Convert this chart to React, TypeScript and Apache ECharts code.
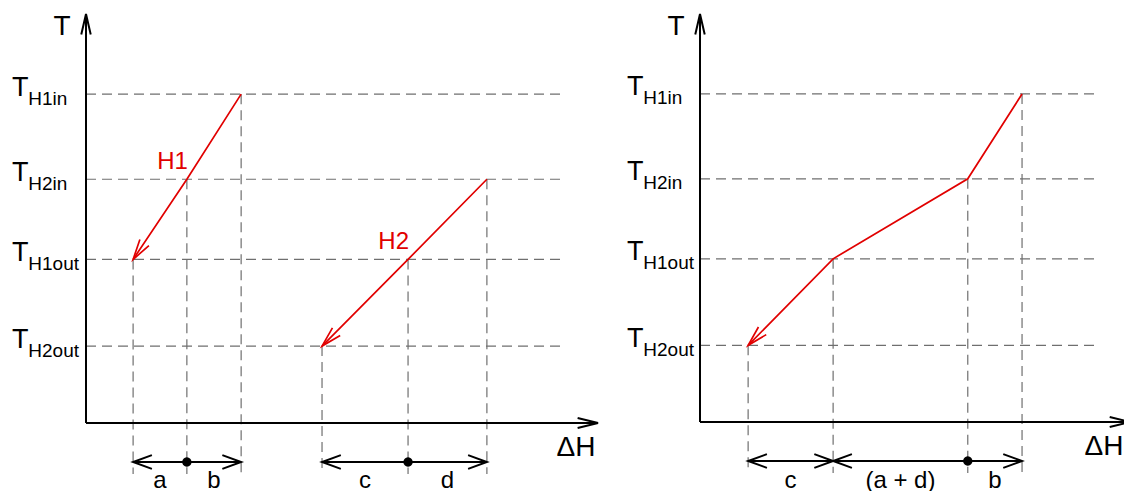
import React, { useEffect, useRef } from 'react';
import * as echarts from 'echarts';

const FONT = '"Liberation Sans", Arial, Helvetica, sans-serif';
const RED = '#e10000';
const GUIDE = '#6f6f6f';
const INK = '#000000';

// Temperature levels (schematic units, axis 0..100)
const T_LEVELS = [80.4, 59.6, 40.0, 18.8];
const T_SUBSCRIPTS = ['H1in', 'H2in', 'H1out', 'H2out'];

// Hot streams: [ΔH, T] vertices (schematic units)
const H1_POINTS = [[30.3, 80.4], [19.7, 59.6], [9.2, 40.0]];
const H2_POINTS = [[78.3, 59.6], [62.9, 40.0], [46.1, 18.8]];
const STREAM_LABELS = ['H1', 'H2'];

// Composite curve
const COMPOSITE_POINTS = [[62.9, 80.4], [52.3, 59.6], [26.0, 40.0], [9.4, 18.8]];

// Dimension annotations
const LEFT_SPANS = [[9.2, 30.3], [46.1, 78.3]];
const LEFT_DOTS = [19.7, 62.9];
const LEFT_SEGMENTS = [[9.2, 19.7], [19.7, 30.3], [46.1, 62.9], [62.9, 78.3]];
const LEFT_SEGMENT_LABELS = ['a', 'b', 'c', 'd'];

const RIGHT_SPANS = [[9.4, 26.0], [26.0, 62.9]];
const RIGHT_DOTS = [52.3];
const RIGHT_SEGMENTS = [[9.4, 26.0], [26.0, 52.3], [52.3, 62.9]];
const RIGHT_SEGMENT_LABELS = ['c', '(a + d)', 'b'];

const AXIS_NAMES = ['T', 'ΔH'];
const X_MAX = 100;
const Y_MAX = 100;
const LEFT_X_END = 100;
const RIGHT_X_END = 84;
const LEFT_GUIDE_END = 93.0;
const RIGHT_GUIDE_END = 77.1;

const dashed = { stroke: GUIDE, lineWidth: 1.2, lineDash: [10, 6], fill: 'none' };
const axisStyle = { stroke: INK, lineWidth: 2, fill: 'none' };
const dimStyle = { stroke: INK, lineWidth: 2, fill: 'none' };
const redStyle = { stroke: RED, lineWidth: 1.7, fill: 'none' };

const seg = (a: number[], b: number[], style: any) => ({
  type: 'line',
  shape: { x1: a[0], y1: a[1], x2: b[0], y2: b[1] },
  style: { ...style },
});

const chevron = (tip: number[], from: number[], len: number, halfDeg: number, style: any) => {
  const dx = from[0] - tip[0];
  const dy = from[1] - tip[1];
  const d = Math.hypot(dx, dy) || 1;
  const ux = dx / d;
  const uy = dy / d;
  const h = (halfDeg * Math.PI) / 180;
  const c = Math.cos(h);
  const s = Math.sin(h);
  const p1 = [tip[0] + len * (ux * c - uy * s), tip[1] + len * (ux * s + uy * c)];
  const p2 = [tip[0] + len * (ux * c + uy * s), tip[1] + len * (-ux * s + uy * c)];
  return { type: 'polyline', shape: { points: [p1, tip, p2] }, style: { ...style } };
};

const txt = (text: string, x: number, y: number, size: number, color: string, align: string) => ({
  type: 'text',
  style: {
    text,
    x,
    y,
    fill: color,
    fontSize: size,
    fontFamily: FONT,
    align,
    textAlign: align,
    verticalAlign: 'middle',
    textVerticalAlign: 'middle',
  },
});

function makeRender(cfg: any) {
  return (_params: any, api: any) => {
    const P = (x: number, y: number) => api.coord([x, y]);
    const origin = P(0, 0);
    const children: any[] = [];

    // horizontal dashed guides
    T_LEVELS.forEach((t) => children.push(seg(P(0, t), P(cfg.guideEnd, t), dashed)));
    // vertical dashed guides from each vertex
    cfg.curves.forEach((pts: number[][]) =>
      pts.forEach(([x, t]) => {
        const a = P(x, t);
        children.push(seg(a, [a[0], origin[1] + 51], dashed));
      })
    );

    // temperature tick labels: T with subscript
    T_LEVELS.forEach((t, i) => {
      const p = P(0, t);
      const x0 = p[0] - cfg.labelMargin;
      children.push(txt('T', x0, p[1] - 7.5, 27, INK, 'left'));
      children.push(txt(T_SUBSCRIPTS[i], x0 + 16.3, p[1] + 4, 19, INK, 'left'));
    });

    // axes
    const xTip = P(cfg.xEnd, 0);
    const yTip = P(0, Y_MAX);
    children.push(seg(origin, xTip, axisStyle));
    children.push(seg(origin, yTip, axisStyle));
    children.push(chevron(xTip, origin, 21, 14, axisStyle));
    children.push(chevron(yTip, origin, 21, 13, axisStyle));
    children.push(txt(AXIS_NAMES[0], yTip[0] - 24, yTip[1] + 11, 28, INK, 'center'));
    children.push(txt(AXIS_NAMES[1], Math.min(xTip[0] - 22, 1104), xTip[1] + 23, 28, INK, 'center'));

    // red curves
    cfg.curves.forEach((pts: number[][], i: number) => {
      const px = pts.map(([x, t]) => P(x, t));
      children.push({ type: 'polyline', shape: { points: px }, style: { ...redStyle } });
      const n = px.length;
      children.push(chevron(px[n - 1], px[n - 2], 21, 15, redStyle));
      if (cfg.streamLabels) {
        const m = px[1];
        children.push(txt(cfg.streamLabels[i], m[0] + 1, m[1] - 19, 24, RED, 'right'));
      }
    });

    // dimension lines
    const dy = origin[1] + 39;
    cfg.spans.forEach(([x0, x1]: number[]) => {
      const a = [P(x0, 0)[0], dy];
      const b = [P(x1, 0)[0], dy];
      children.push(seg(a, b, dimStyle));
      children.push(chevron(a, b, 20, 20, dimStyle));
      children.push(chevron(b, a, 20, 20, dimStyle));
    });
    cfg.dots.forEach((x: number) => {
      children.push({ type: 'circle', shape: { cx: P(x, 0)[0], cy: dy, r: 4.7 }, style: { fill: INK, stroke: 'none' } });
    });
    cfg.segments.forEach(([x0, x1]: number[], i: number) => {
      const cx = (P(x0, 0)[0] + P(x1, 0)[0]) / 2;
      children.push(txt(cfg.segmentLabels[i], cx, 479, 24, INK, 'center'));
    });

    return { type: 'group', children };
  };
}

export default function App() {
  const ref = useRef<HTMLDivElement>(null);
  useEffect(() => {
    if (!ref.current) return;
    const chart = echarts.init(ref.current, null, { renderer: 'svg' });
    chart.setOption({
      animation: false,
      backgroundColor: '#ffffff',
      grid: [
        { left: 86, top: 14, width: 512, height: 409, outerBoundsMode: 'none', containLabel: false },
        { left: 700, top: 14, width: 512, height: 408, outerBoundsMode: 'none', containLabel: false },
      ],
      xAxis: [
        { gridIndex: 0, type: 'value', min: 0, max: X_MAX, show: false },
        { gridIndex: 1, type: 'value', min: 0, max: X_MAX, show: false },
      ],
      yAxis: [
        { gridIndex: 0, type: 'value', min: 0, max: Y_MAX, show: false },
        { gridIndex: 1, type: 'value', min: 0, max: Y_MAX, show: false },
      ],
      series: [
        {
          type: 'custom',
          xAxisIndex: 0,
          yAxisIndex: 0,
          silent: true,
          clip: false,
          data: [[0, 0]],
          renderItem: makeRender({
            curves: [H1_POINTS, H2_POINTS],
            streamLabels: STREAM_LABELS,
            xEnd: LEFT_X_END,
            guideEnd: LEFT_GUIDE_END,
            labelMargin: 74,
            spans: LEFT_SPANS,
            dots: LEFT_DOTS,
            segments: LEFT_SEGMENTS,
            segmentLabels: LEFT_SEGMENT_LABELS,
          }),
        },
        {
          type: 'custom',
          xAxisIndex: 1,
          yAxisIndex: 1,
          silent: true,
          clip: false,
          data: [[0, 0]],
          renderItem: makeRender({
            curves: [COMPOSITE_POINTS],
            streamLabels: null,
            xEnd: RIGHT_X_END,
            guideEnd: RIGHT_GUIDE_END,
            labelMargin: 73,
            spans: RIGHT_SPANS,
            dots: RIGHT_DOTS,
            segments: RIGHT_SEGMENTS,
            segmentLabels: RIGHT_SEGMENT_LABELS,
          }),
        },
      ],
    });
    return () => chart.dispose();
  }, []);
  return (
    <div
      ref={ref}
      style={{ position: 'fixed', left: 0, top: 0, width: 1124, height: 491, background: '#fff' }}
    />
  );
}
